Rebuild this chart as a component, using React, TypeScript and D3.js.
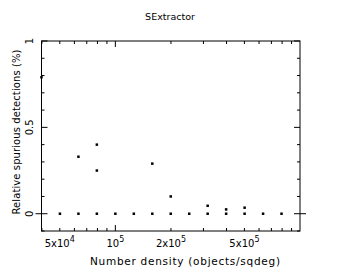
import React from "react";
import * as d3 from "d3";

const zeroDensities = [50100, 63100, 79400, 100000, 125900, 158500, 199500, 251200, 316200, 398100, 501200, 631000, 794300];
const zeroValues = [0, 0, 0, 0, 0, 0, 0, 0, 0, 0, 0, 0, 0];
const spurDensities = [39800, 63100, 79400, 79400, 158500, 199500, 316200, 398100, 501200];
const spurValues = [0.79, 0.33, 0.4, 0.25, 0.29, 0.1, 0.046, 0.025, 0.035];
const xLabelTicks = [50000, 100000, 200000, 500000];
const xLabelMant = ["5x10", "10", "2x10", "5x10"];
const xLabelExp = ["4", "5", "5", "5"];
const yLabelTicks = [0, 0.5, 1];

export default function App() {
  const W = 341, H = 273;
  const L = 41.5, R = 300, T = 41, B = 231;
  const x = d3.scaleLog().domain([Math.pow(10, 4.6), 1e6]).range([L, R]);
  const y = d3.scaleLinear().domain([-0.1, 1]).range([B, T]);
  const font = "DejaVu Sans, sans-serif";

  const xMinor: number[] = [];
  for (const d of [1e4, 1e5]) for (let k = 1; k <= 9; k++) {
    const v = d * k;
    if (v >= x.domain()[0] && v <= 1e6) xMinor.push(v);
  }
  const yMinor = d3.range(-1, 11).map((i) => i / 10);

  const els: React.ReactNode[] = [];
  xMinor.forEach((v, i) => {
    const major = Math.abs(Math.log10(v) - Math.round(Math.log10(v))) < 1e-9;
    const len = major ? 6 : 3;
    const px = x(v);
    els.push(<line key={"xb" + i} x1={px} x2={px} y1={B} y2={B - len} stroke="#000" />);
    els.push(<line key={"xt" + i} x1={px} x2={px} y1={T} y2={T + len} stroke="#000" />);
  });
  yMinor.forEach((v, i) => {
    const major = Math.abs(v * 2 - Math.round(v * 2)) < 1e-9;
    const len = major ? 6 : 3;
    const py = y(v);
    const outL = v === 0 ? 6 : 0;
    els.push(<line key={"yl" + i} x1={L - outL} x2={L + len} y1={py} y2={py} stroke="#000" />);
    els.push(<line key={"yr" + i} x1={R + outL} x2={R - len} y1={py} y2={py} stroke="#000" />);
  });

  return (
    <svg width={W} height={H} style={{ position: "absolute", left: 0, top: 0, background: "#fff" }}>
      <rect x={0} y={0} width={W} height={H} fill="#fff" />
      <text x={170} y={20} textAnchor="middle" fontFamily={font} fontSize={9.5}>SExtractor</text>
      <rect x={L} y={T} width={R - L} height={B - T} fill="none" stroke="#000" strokeWidth={1} />
      {els}
      {xLabelTicks.map((v, i) => (
        <text key={"xl" + i} x={x(v)} y={247} textAnchor="middle" fontFamily={font} fontSize={10}>
          {xLabelMant[i]}
          <tspan dy={-5} fontSize={8}>{xLabelExp[i]}</tspan>
        </text>
      ))}
      {yLabelTicks.map((v, i) => (
        <text key={"yt" + i} transform={`translate(33,${y(v)}) rotate(-90)`} textAnchor="middle" fontFamily={font} fontSize={10}>
          {String(v)}
        </text>
      ))}
      <text x={185} y={265} textAnchor="middle" fontFamily={font} fontSize={10.5} textLength={190}>Number density (objects/sqdeg)</text>
      <text transform={`translate(20,132) rotate(-90)`} textAnchor="middle" fontFamily={font} fontSize={10} textLength={165}>Relative spurious detections (%)</text>
      {zeroDensities.map((d, i) => (
        <rect key={"z" + i} x={x(d) - 1.25} y={y(zeroValues[i]) - 1.25} width={2.5} height={2.5} fill="#000" />
      ))}
      {spurDensities.map((d, i) => (
        <rect key={"s" + i} x={x(d) - 1.25} y={y(spurValues[i]) - 1.25} width={2.5} height={2.5} fill="#000" />
      ))}
    </svg>
  );
}
